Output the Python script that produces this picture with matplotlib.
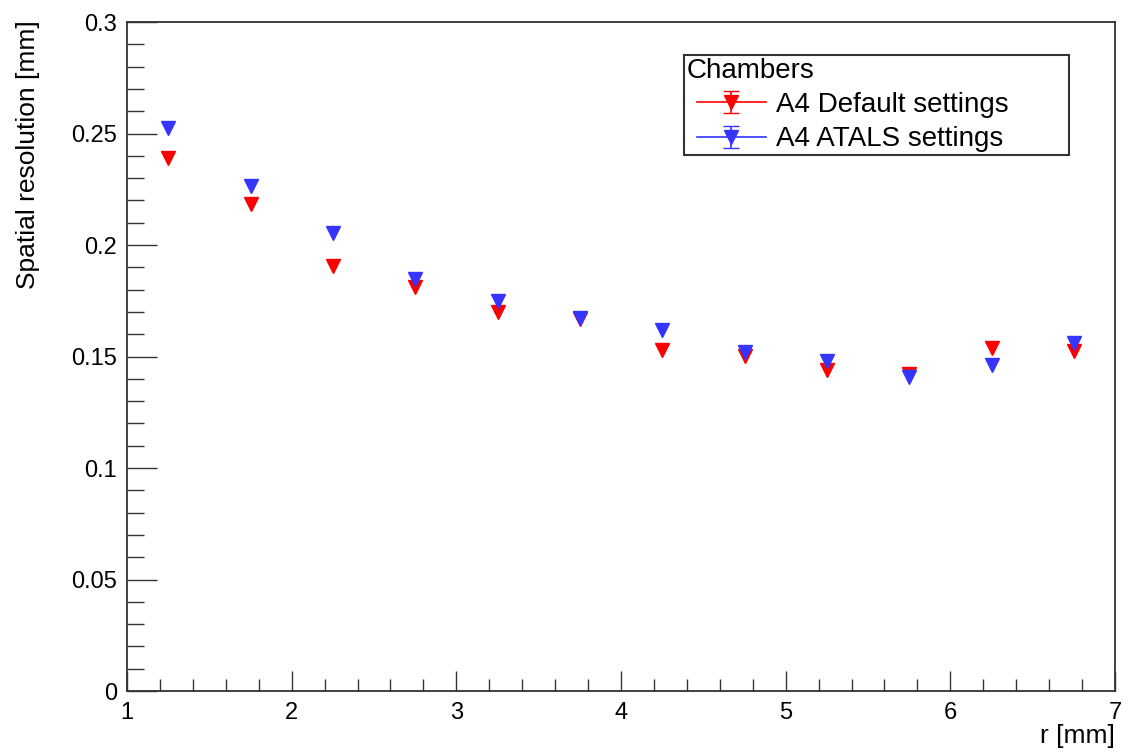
import numpy as np
import matplotlib
matplotlib.use('Agg')
import matplotlib.pyplot as plt
from matplotlib.ticker import MultipleLocator, FormatStrFormatter
from matplotlib.legend_handler import HandlerErrorbar

plt.rcParams['font.family'] = ['Liberation Sans', 'DejaVu Sans']

# r bins (mm)
r = [1.25, 1.75, 2.25, 2.75, 3.25, 3.75, 4.25, 4.75, 5.25, 5.75, 6.25, 6.75]
# spatial resolution (mm)
res_default = [0.2389, 0.2183, 0.1904, 0.1810, 0.1700, 0.1668, 0.1531, 0.1504,
               0.1439, 0.1422, 0.1540, 0.1526]
res_atals = [0.2523, 0.2263, 0.2056, 0.1848, 0.1747, 0.1673, 0.1620, 0.1519,
             0.1480, 0.1407, 0.1460, 0.1559]

labels = ['A4 Default settings', 'A4 ATALS settings']
red = '#ff0000'
blue = '#3535ff'
axcol = '#333333'


class ShiftedErrorbar(HandlerErrorbar):
    # move the legend symbol a bit to the right, like ROOT does
    def create_artists(self, legend, orig_handle, xdescent, ydescent,
                       width, height, fontsize, trans):
        return super().create_artists(legend, orig_handle, xdescent - 7, ydescent,
                                      width, height, fontsize, trans)


fig = plt.figure(figsize=(11.29, 7.52), dpi=100)
ax = fig.add_axes([0.1125, 0.0811, 0.8751, 0.8896])

ax.plot(r, res_default, linestyle='none', marker='v', ms=10, color=red, mec=red)
ax.plot(r, res_atals, linestyle='none', marker='v', ms=10, color=blue, mec=blue)

# legend proxies (line + marker + error bar)
h1 = ax.errorbar([np.nan], [np.nan], yerr=[0.01], fmt='-v', color=red, ms=10,
                 lw=1.2, elinewidth=1.2, capsize=6)
h2 = ax.errorbar([np.nan], [np.nan], yerr=[0.01], fmt='-v', color=blue, ms=10,
                 lw=1.2, elinewidth=1.2, capsize=6)

ax.set_xlim(1, 7)
ax.set_ylim(0, 0.3)
ax.xaxis.set_major_locator(MultipleLocator(1))
ax.xaxis.set_minor_locator(MultipleLocator(0.2))
ax.yaxis.set_major_locator(MultipleLocator(0.05))
ax.yaxis.set_minor_locator(MultipleLocator(0.01))
ax.yaxis.set_major_formatter(FormatStrFormatter('%g'))

ax.tick_params(axis='both', which='both', direction='in', color=axcol,
               width=1.0, labelsize=17, top=False, right=False)
ax.tick_params(axis='y', which='major', length=21.6, pad=7)
ax.tick_params(axis='y', which='minor', length=12)
ax.tick_params(axis='x', which='major', length=14.4, pad=8)
ax.tick_params(axis='x', which='minor', length=8.6)

for s in ax.spines.values():
    s.set_color(axcol)
    s.set_linewidth(1.3)

ax.set_xlabel('r [mm]', fontsize=19, loc='right')
ax.xaxis.set_label_coords(1.0, -0.05)
ax.set_ylabel('Spatial resolution [mm]', fontsize=19, loc='top')
ax.yaxis.set_label_coords(-0.088, 1.003)

hmap = {h1: ShiftedErrorbar(xerr_size=0.4), h2: ShiftedErrorbar(xerr_size=0.4)}
leg = ax.legend([h1, h2], labels, title='Chambers', fontsize=20, title_fontsize=20,
                loc='upper left', bbox_to_anchor=(684 / 1129, 1 - 55 / 752, 385 / 1129, 0.0),
                bbox_transform=fig.transFigure, mode='expand', alignment='left',
                fancybox=False, framealpha=1, edgecolor=axcol, borderpad=0.1,
                handlelength=2.5, handletextpad=0.72, labelspacing=0.3,
                borderaxespad=0, handler_map=hmap)
leg.get_frame().set_linewidth(1.5)

fig.savefig('out.png', dpi=100)
